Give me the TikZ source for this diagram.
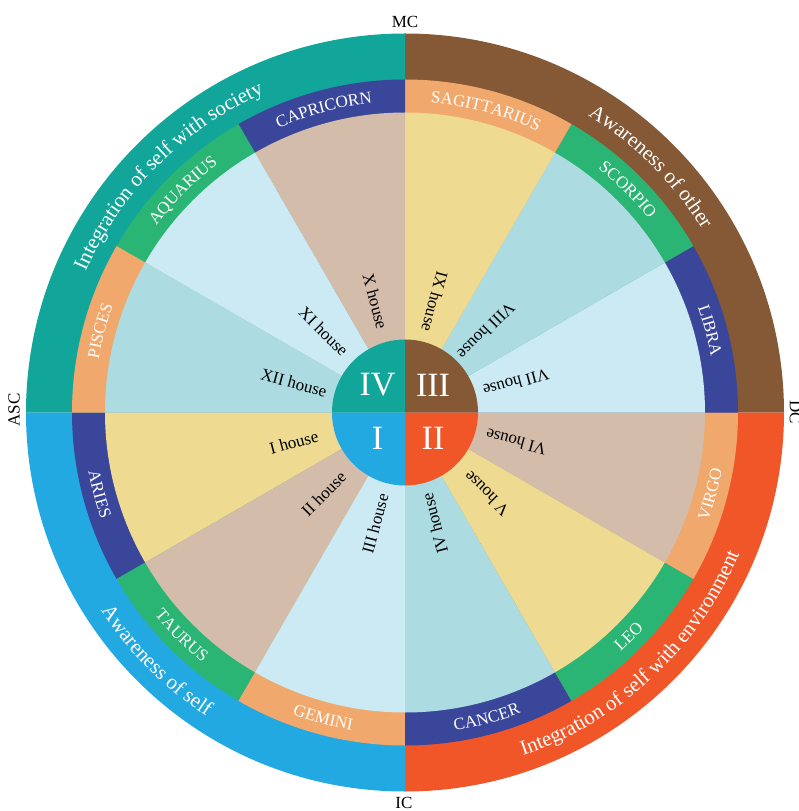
\documentclass[tikz,border=0pt]{standalone}
\usepackage{fontspec}
\setmainfont{Liberation Serif}
\usepackage{tikz}
\usetikzlibrary{decorations.text}

\definecolor{quadI}{HTML}{23A9E1}
\definecolor{quadII}{HTML}{F05628}
\definecolor{quadIII}{HTML}{855936}
\definecolor{quadIV}{HTML}{12A69A}
\definecolor{signnavy}{HTML}{3A4699}
\definecolor{signgreen}{HTML}{2AB574}
\definecolor{signorange}{HTML}{F0A86C}
\definecolor{houseyellow}{HTML}{EEDB91}
\definecolor{housetan}{HTML}{D3BDAA}
\definecolor{houseblue}{HTML}{CCEAF4}
\definecolor{houseteal}{HTML}{ACDCE1}

\newcommand{\signfont}{\color{white}\fontsize{17}{17}\selectfont}
\newcommand{\bandfont}{\color{white}\fontsize{21}{21}\selectfont}

\begin{document}
\begin{tikzpicture}[x=1pt, y=1pt]

    \tikzstyle{house}=[text=black, font=\fontsize{17}{17}\selectfont, inner sep=0pt]
    \tikzstyle{numeral}=[text=white, font=\fontsize{34}{34}\selectfont, inner sep=0pt]
    \tikzstyle{cusplabel}=[text=black, font=\fontsize{17}{17}\selectfont, inner sep=0pt]

    \useasboundingbox (-405,-398.5) rectangle (393,412.5);

    % outer ring
    \fill[quadIV]  (0,0) -- (90:379)  arc[start angle=90,  end angle=180, radius=379] -- cycle;
    \fill[quadIII] (0,0) -- (0:379)   arc[start angle=0,   end angle=90,  radius=379] -- cycle;
    \fill[quadII]  (0,0) -- (270:379) arc[start angle=270, end angle=360, radius=379] -- cycle;
    \fill[quadI]   (0,0) -- (180:379) arc[start angle=180, end angle=270, radius=379] -- cycle;

    % signs
    \fill[signnavy]   (0,0) -- (180:333) arc[start angle=180, end angle=210, radius=333] -- cycle;
    \fill[signgreen]  (0,0) -- (210:333) arc[start angle=210, end angle=240, radius=333] -- cycle;
    \fill[signorange] (0,0) -- (240:333) arc[start angle=240, end angle=270, radius=333] -- cycle;
    \fill[signnavy]   (0,0) -- (270:333) arc[start angle=270, end angle=300, radius=333] -- cycle;
    \fill[signgreen]  (0,0) -- (300:333) arc[start angle=300, end angle=330, radius=333] -- cycle;
    \fill[signorange] (0,0) -- (330:333) arc[start angle=330, end angle=360, radius=333] -- cycle;
    \fill[signnavy]   (0,0) -- (0:333)   arc[start angle=0,   end angle=30,  radius=333] -- cycle;
    \fill[signgreen]  (0,0) -- (30:333)  arc[start angle=30,  end angle=60,  radius=333] -- cycle;
    \fill[signorange] (0,0) -- (60:333)  arc[start angle=60,  end angle=90,  radius=333] -- cycle;
    \fill[signnavy]   (0,0) -- (90:333)  arc[start angle=90,  end angle=120, radius=333] -- cycle;
    \fill[signgreen]  (0,0) -- (120:333) arc[start angle=120, end angle=150, radius=333] -- cycle;
    \fill[signorange] (0,0) -- (150:333) arc[start angle=150, end angle=180, radius=333] -- cycle;

    % houses
    \fill[houseyellow] (0,0) -- (180:300) arc[start angle=180, end angle=210, radius=300] -- cycle;
    \fill[housetan]    (0,0) -- (210:300) arc[start angle=210, end angle=240, radius=300] -- cycle;
    \fill[houseblue]   (0,0) -- (240:300) arc[start angle=240, end angle=270, radius=300] -- cycle;
    \fill[houseteal]   (0,0) -- (270:300) arc[start angle=270, end angle=300, radius=300] -- cycle;
    \fill[houseyellow] (0,0) -- (300:300) arc[start angle=300, end angle=330, radius=300] -- cycle;
    \fill[housetan]    (0,0) -- (330:300) arc[start angle=330, end angle=360, radius=300] -- cycle;
    \fill[houseblue]   (0,0) -- (0:300)   arc[start angle=0,   end angle=30,  radius=300] -- cycle;
    \fill[houseteal]   (0,0) -- (30:300)  arc[start angle=30,  end angle=60,  radius=300] -- cycle;
    \fill[houseyellow] (0,0) -- (60:300)  arc[start angle=60,  end angle=90,  radius=300] -- cycle;
    \fill[housetan]    (0,0) -- (90:300)  arc[start angle=90,  end angle=120, radius=300] -- cycle;
    \fill[houseblue]   (0,0) -- (120:300) arc[start angle=120, end angle=150, radius=300] -- cycle;
    \fill[houseteal]   (0,0) -- (150:300) arc[start angle=150, end angle=180, radius=300] -- cycle;

    % centre
    \fill[quadIV]  (0,0) -- (90:73)  arc[start angle=90,  end angle=180, radius=73] -- cycle;
    \fill[quadIII] (0,0) -- (0:73)   arc[start angle=0,   end angle=90,  radius=73] -- cycle;
    \fill[quadII]  (0,0) -- (270:73) arc[start angle=270, end angle=360, radius=73] -- cycle;
    \fill[quadI]   (0,0) -- (180:73) arc[start angle=180, end angle=270, radius=73] -- cycle;

    \node[numeral] (nIV)  at (-27.5, 27.5)  {IV};
    \node[numeral] (nIII) at (28, 27.5)     {III};
    \node[numeral] (nI)   at (-27.5, -25.5) {I};
    \node[numeral] (nII)  at (28, -25.5)    {II};

    \node[house, rotate=15]  (h1)  at (195:115) {I house};
    \node[house, rotate=45]  (h2)  at (225:115) {II house};
    \node[house, rotate=75]  (h3)  at (255:115) {III house};
    \node[house, rotate=105] (h4)  at (285:115) {IV house};
    \node[house, rotate=135] (h5)  at (315:115) {V house};
    \node[house, rotate=165] (h6)  at (345:115) {VI house};
    \node[house, rotate=195] (h7)  at (15:115)  {VII house};
    \node[house, rotate=225] (h8)  at (45:115)  {VIII house};
    \node[house, rotate=255] (h9)  at (75:115)  {IX house};
    \node[house, rotate=285] (h10) at (105:115) {X house};
    \node[house, rotate=315] (h11) at (135:115) {XI house};
    \node[house, rotate=345] (h12) at (165:115) {XII house};

    % sign names
    \path[decorate, decoration={text along path, text align=center, text={|\signfont|LIBRA}}]
        (30:311) arc[start angle=30, end angle=0, radius=311];
    \path[decorate, decoration={text along path, text align=center, text={|\signfont|SCORPIO}}]
        (60:311) arc[start angle=60, end angle=30, radius=311];
    \path[decorate, decoration={text along path, text align=center, text={|\signfont|SAGITTARIUS}}]
        (90:311) arc[start angle=90, end angle=60, radius=311];
    \path[decorate, decoration={text along path, text align=center, text={|\signfont|CAPRICORN}}]
        (120:311) arc[start angle=120, end angle=90, radius=311];
    \path[decorate, decoration={text along path, text align=center, text={|\signfont|AQUARIUS}}]
        (150:311) arc[start angle=150, end angle=120, radius=311];
    \path[decorate, decoration={text along path, text align=center, text={|\signfont|PISCES}}]
        (180:311) arc[start angle=180, end angle=150, radius=311];
    \path[decorate, decoration={text along path, text align=center, text={|\signfont|ARIES}}]
        (180:322) arc[start angle=180, end angle=210, radius=322];
    \path[decorate, decoration={text along path, text align=center, text={|\signfont|TAURUS}}]
        (210:322) arc[start angle=210, end angle=240, radius=322];
    \path[decorate, decoration={text along path, text align=center, text={|\signfont|GEMINI}}]
        (240:322) arc[start angle=240, end angle=270, radius=322];
    \path[decorate, decoration={text along path, text align=center, text={|\signfont|CANCER}}]
        (270:322) arc[start angle=270, end angle=300, radius=322];
    \path[decorate, decoration={text along path, text align=center, text={|\signfont|LEO}}]
        (300:322) arc[start angle=300, end angle=330, radius=322];
    \path[decorate, decoration={text along path, text align=center, text={|\signfont|VIRGO}}]
        (330:322) arc[start angle=330, end angle=360, radius=322];

    % ring texts
    \path[decorate, decoration={text along path, text align=center, text={|\bandfont|Integration of self with society}}]
        (175:349) arc[start angle=175, end angle=95, radius=349];
    \path[decorate, decoration={text along path, text align=center, text={|\bandfont|Awareness of other}}]
        (85:349) arc[start angle=85, end angle=5, radius=349];
    \path[decorate, decoration={text along path, text align=center, text={|\bandfont|Integration of self with environment}}]
        (273:363) arc[start angle=273, end angle=353, radius=363];
    \path[decorate, decoration={text along path, text align=center, text={|\bandfont|Awareness of self}}]
        (185:363) arc[start angle=185, end angle=265, radius=363];

    \node[cusplabel]              (mc)  at (0, 390.5)  {MC};
    \node[cusplabel]              (ic)  at (-1, -390.5) {IC};
    \node[cusplabel, rotate=90]   (asc) at (-391, 2.5)  {ASC};
    \node[cusplabel, rotate=-90]  (dc)  at (390.5, 0)   {DC};

\end{tikzpicture}
\end{document}
